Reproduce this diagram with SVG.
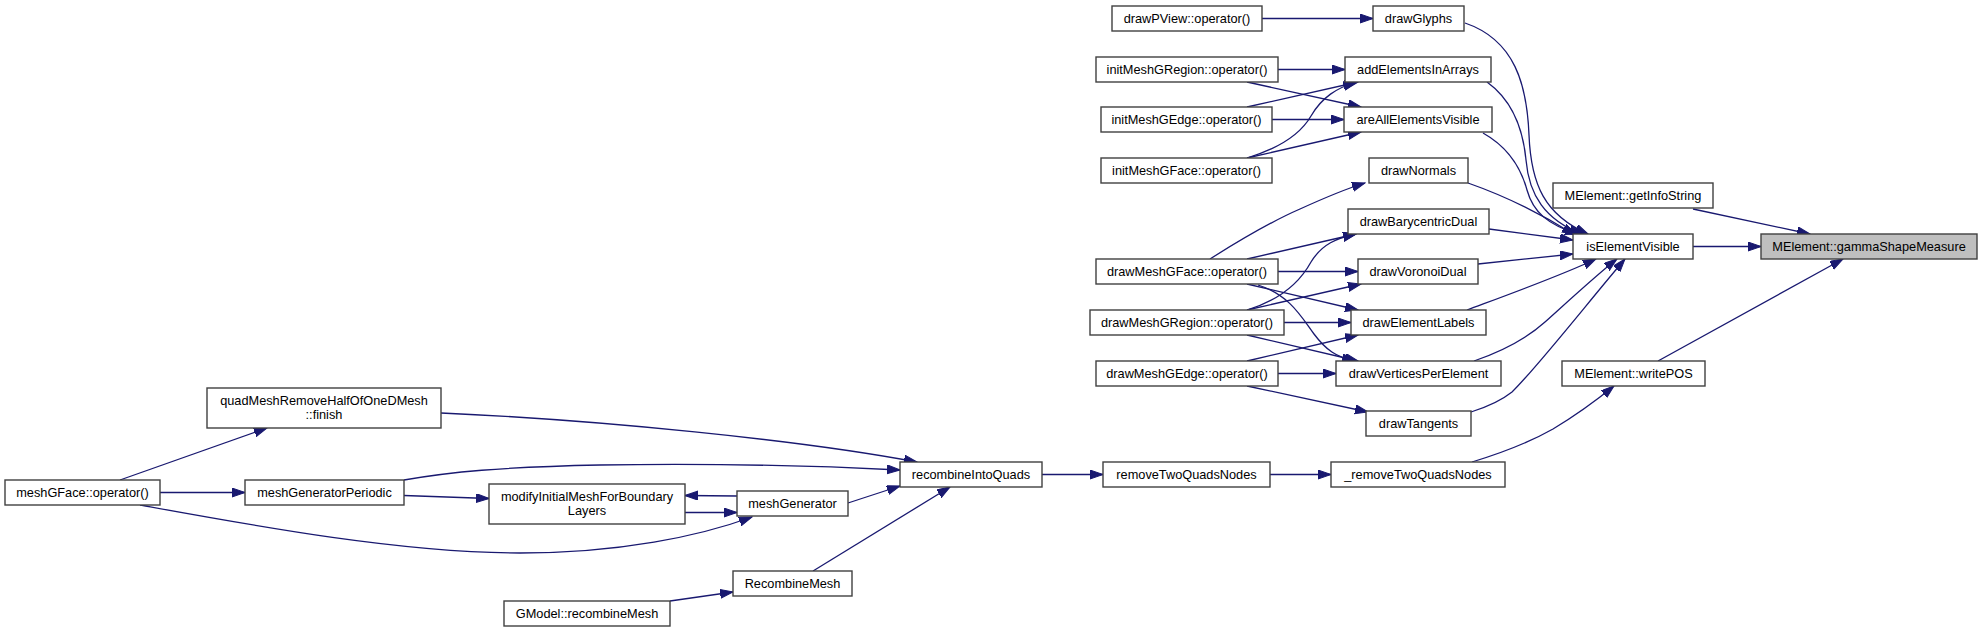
<svg xmlns="http://www.w3.org/2000/svg" width="1983" height="632" viewBox="0 0 1983 632">
<style>
.n rect{fill:#ffffff;stroke:#404040;stroke-width:1.4}
.n.root rect{fill:#bfbfbf}
.n text{font-family:"Liberation Sans",Arial,sans-serif;font-size:12.75px;fill:#000000;text-anchor:middle}
.e path{fill:none;stroke:#191970;stroke-width:1.3;marker-end:url(#ah)}
</style>
<defs>
<marker id="ah" markerUnits="userSpaceOnUse" markerWidth="14" markerHeight="10" refX="13" refY="4.5" orient="auto">
<path d="M0,0 L13,4.5 L0,9 z" fill="#191970" stroke="#191970" stroke-width="1"/>
</marker>
</defs>
<rect x="0" y="0" width="1983" height="632" fill="#ffffff"/>
<g id="edges" class="e">
<path d="M1262,18.5 L1373,18.5"/>
<path d="M1278,69.5 L1345,69.5"/>
<path d="M1247,82 L1361,107"/>
<path d="M1272,119.5 L1344,119.5"/>
<path d="M1247,107 L1358,82"/>
<path d="M1247,158 C1280,148 1300,135 1311,116 C1322,97 1337,88 1356,82"/>
<path d="M1247,158 L1361,132"/>
<path d="M1210,259 C1240,240 1270,222 1300,209 C1322,199 1342,190 1365,183"/>
<path d="M1247,259 L1356,234"/>
<path d="M1278,271.5 L1358,271.5"/>
<path d="M1247,284 L1358,310"/>
<path d="M1258,285 C1290,295 1302,318 1314,334 C1326,350 1336,357 1355,361"/>
<path d="M1247,310 C1280,300 1300,282 1311,262 C1322,244 1337,238 1356,234"/>
<path d="M1247,310 L1361,284"/>
<path d="M1284,322.5 L1351,322.5"/>
<path d="M1247,335 L1358,361"/>
<path d="M1247,361 L1358,335"/>
<path d="M1278,373.5 L1336,373.5"/>
<path d="M1247,386 L1368,412"/>
<path d="M1465,23 C1515,40 1527,85 1529,135 C1531,185 1545,215 1588,234"/>
<path d="M1487,82 C1512,100 1523,128 1526,160 C1529,195 1545,220 1582,234"/>
<path d="M1483,133 C1508,147 1521,168 1527,190 C1533,212 1548,225 1578,234"/>
<path d="M1468,183 C1505,196 1540,213 1575,235"/>
<path d="M1489,229 L1573,240"/>
<path d="M1478,264 L1573,254"/>
<path d="M1467,310 C1510,294 1560,276 1596,259"/>
<path d="M1474,361 C1500,352 1525,340 1545,322 C1575,295 1600,272 1617,259"/>
<path d="M1471,412 C1490,406 1502,400 1512,392 C1535,370 1590,300 1625,259"/>
<path d="M1693,209 L1810,234"/>
<path d="M1693,246.5 L1761,246.5"/>
<path d="M1658,361 L1843,259"/>
<path d="M1472,462 C1505,452 1530,442 1553,429 C1578,414 1598,399 1614,386"/>
<path d="M1270,474.5 L1331,474.5"/>
<path d="M1042,474.5 L1103,474.5"/>
<path d="M441,413 C600,420 800,440 917,462"/>
<path d="M120,480 L267,428"/>
<path d="M160,492.5 L245,492.5"/>
<path d="M140,505 C250,525 400,553 520,553 C620,553 700,536 752,517"/>
<path d="M404,480 C450,472 500,467 600,465 C720,463 820,466 900,470"/>
<path d="M404,495.5 L489,498.5"/>
<path d="M685,512.5 L737,512.5"/>
<path d="M737,496 L685,495.5"/>
<path d="M848,503 L900,486"/>
<path d="M813,571 L950,487"/>
<path d="M670,601 L733,592"/>
</g>
<g id="n1" class="n"><rect x="1112" y="6" width="150" height="25"/><text x="1187" y="23">drawPView::operator()</text></g>
<g id="n2" class="n"><rect x="1373" y="6" width="91" height="25"/><text x="1418.5" y="23">drawGlyphs</text></g>
<g id="n3" class="n"><rect x="1096" y="57" width="182" height="25"/><text x="1187" y="74">initMeshGRegion::operator()</text></g>
<g id="n4" class="n"><rect x="1345" y="57" width="146" height="25"/><text x="1418" y="74">addElementsInArrays</text></g>
<g id="n5" class="n"><rect x="1101" y="107" width="171" height="25"/><text x="1186.5" y="124">initMeshGEdge::operator()</text></g>
<g id="n6" class="n"><rect x="1344" y="107" width="148" height="25"/><text x="1418" y="124">areAllElementsVisible</text></g>
<g id="n7" class="n"><rect x="1101" y="158" width="171" height="25"/><text x="1186.5" y="175">initMeshGFace::operator()</text></g>
<g id="n8" class="n"><rect x="1369" y="158" width="99" height="25"/><text x="1418.5" y="175">drawNormals</text></g>
<g id="n9" class="n"><rect x="1553" y="183" width="160" height="25"/><text x="1633" y="200">MElement::getInfoString</text></g>
<g id="n10" class="n"><rect x="1348" y="209" width="141" height="25"/><text x="1418.5" y="226">drawBarycentricDual</text></g>
<g id="n11" class="n"><rect x="1573" y="234" width="120" height="25"/><text x="1633" y="251">isElementVisible</text></g>
<g id="n12" class="n root"><rect x="1761" y="234" width="216" height="25"/><text x="1869" y="251">MElement::gammaShapeMeasure</text></g>
<g id="n13" class="n"><rect x="1096" y="259" width="182" height="25"/><text x="1187" y="276">drawMeshGFace::operator()</text></g>
<g id="n14" class="n"><rect x="1358" y="259" width="120" height="25"/><text x="1418" y="276">drawVoronoiDual</text></g>
<g id="n15" class="n"><rect x="1090" y="310" width="194" height="25"/><text x="1187" y="327">drawMeshGRegion::operator()</text></g>
<g id="n16" class="n"><rect x="1351" y="310" width="135" height="25"/><text x="1418.5" y="327">drawElementLabels</text></g>
<g id="n17" class="n"><rect x="1096" y="361" width="182" height="25"/><text x="1187" y="378">drawMeshGEdge::operator()</text></g>
<g id="n18" class="n"><rect x="1336" y="361" width="165" height="25"/><text x="1418.5" y="378">drawVerticesPerElement</text></g>
<g id="n19" class="n"><rect x="1562" y="361" width="143" height="25"/><text x="1633.5" y="378">MElement::writePOS</text></g>
<g id="n20" class="n"><rect x="1366" y="411" width="105" height="25"/><text x="1418.5" y="428">drawTangents</text></g>
<g id="n21" class="n"><rect x="207" y="388" width="234" height="40"/><text x="324" y="404.5">quadMeshRemoveHalfOfOneDMesh</text><text x="324" y="418.5">::finish</text></g>
<g id="n22" class="n"><rect x="900" y="462" width="142" height="25"/><text x="971" y="479">recombineIntoQuads</text></g>
<g id="n23" class="n"><rect x="1103" y="462" width="167" height="25"/><text x="1186.5" y="479">removeTwoQuadsNodes</text></g>
<g id="n24" class="n"><rect x="1331" y="462" width="174" height="25"/><text x="1418" y="479">_removeTwoQuadsNodes</text></g>
<g id="n25" class="n"><rect x="5" y="480" width="155" height="25"/><text x="82.5" y="497">meshGFace::operator()</text></g>
<g id="n26" class="n"><rect x="245" y="480" width="159" height="25"/><text x="324.5" y="497">meshGeneratorPeriodic</text></g>
<g id="n27" class="n"><rect x="489" y="484" width="196" height="40"/><text x="587" y="500.5">modifyInitialMeshForBoundary</text><text x="587" y="514.5">Layers</text></g>
<g id="n28" class="n"><rect x="737" y="491" width="111" height="25"/><text x="792.5" y="508">meshGenerator</text></g>
<g id="n29" class="n"><rect x="733" y="571" width="119" height="25"/><text x="792.5" y="588">RecombineMesh</text></g>
<g id="n30" class="n"><rect x="504" y="601" width="166" height="25"/><text x="587" y="618">GModel::recombineMesh</text></g>
</svg>
